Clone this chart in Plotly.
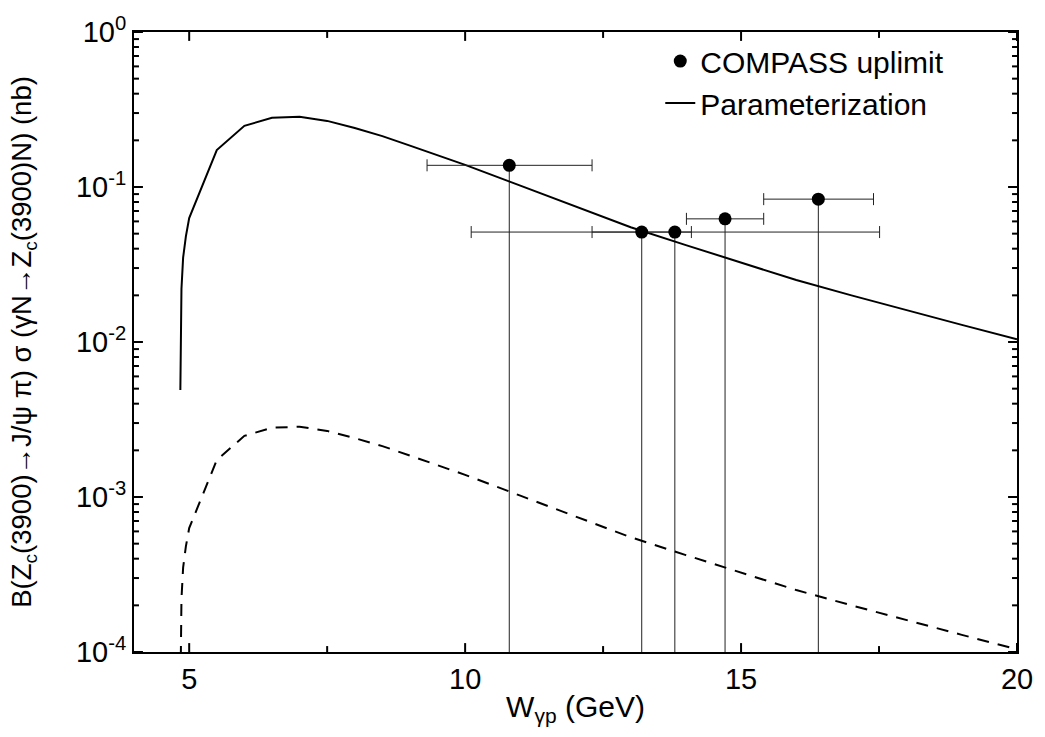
import plotly.graph_objects as go

# ---- data ----
W_param = [4.84, 4.85, 4.86, 4.89, 4.94, 5.0, 5.5, 6.0, 6.5, 7.0, 7.5, 8.0, 8.5, 9.0,
           9.5, 10.0, 11.0, 12.0, 13.0, 14.0, 15.0, 16.0, 17.0, 18.0, 19.0, 20.0]
sigma_param = [0.0049, 0.012, 0.022, 0.035, 0.048, 0.063, 0.173, 0.248, 0.280, 0.284,
               0.267, 0.240, 0.213, 0.185, 0.161, 0.139, 0.102, 0.075, 0.055, 0.0422,
               0.0324, 0.0251, 0.0200, 0.0160, 0.0129, 0.0104]

W_dashed = [4.84, 4.85, 4.86, 4.89, 4.94, 5.0, 5.5, 6.0, 6.5, 7.0, 7.5, 8.0, 8.5, 9.0,
            9.5, 10.0, 11.0, 12.0, 13.0, 14.0, 15.0, 16.0, 17.0, 18.0, 19.0, 20.0]
sigma_dashed = [0.000049, 0.00012, 0.00022, 0.00035, 0.00048, 0.00063, 0.00173, 0.00248,
                0.00280, 0.00284, 0.00267, 0.00240, 0.00213, 0.00185, 0.00161, 0.00139,
                0.00102, 0.00075, 0.00055, 0.000422, 0.000324, 0.000251, 0.000200,
                0.000160, 0.000129, 0.000104]

compass_W = [10.80, 13.20, 13.80, 14.71, 16.40]
compass_sigma = [0.138, 0.0512, 0.0512, 0.0623, 0.0835]
compass_W_lo = [9.31, 10.11, 12.30, 14.01, 15.41]
compass_W_hi = [12.30, 14.10, 17.51, 15.41, 17.40]

x_range = [4, 20]
y_range_log = [-4, 0]
y_tickvals = [1e-4, 1e-3, 1e-2, 1e-1, 1]
y_ticktext = ["10<sup>-4</sup>", "10<sup>-3</sup>", "10<sup>-2</sup>", "10<sup>-1</sup>", "10<sup>0</sup>"]
y_minor = [m * 10 ** e for e in range(-4, 0) for m in range(2, 10)]
x_tickvals = [5, 10, 15, 20]
x_minor = [7.5, 12.5, 17.5]

FONT = "Arial, Liberation Sans, sans-serif"
W_PX, H_PX = 1045, 737
MARGIN = dict(l=134, r=22, t=25, b=85)
plot_w = W_PX - MARGIN["l"] - MARGIN["r"]
plot_h = H_PX - MARGIN["t"] - MARGIN["b"]
px_per_unit = plot_w / (x_range[1] - x_range[0])
px_per_decade = plot_h / (y_range_log[1] - y_range_log[0])
y_lo, y_hi = 10 ** y_range_log[0], 10 ** y_range_log[1]

fig = go.Figure()

# vertical drop lines from the upper limits
drop_x, drop_y = [], []
for w, s in zip(compass_W, compass_sigma):
    drop_x += [w, w, None]
    drop_y += [s, y_lo, None]
fig.add_trace(go.Scatter(x=drop_x, y=drop_y, mode="lines",
                         line=dict(color="#222222", width=1), showlegend=False,
                         hoverinfo="skip"))

fig.add_trace(go.Scatter(x=W_param, y=sigma_param, mode="lines", name="Parameterization",
                         line=dict(color="black", width=2)))
fig.add_trace(go.Scatter(x=W_dashed, y=sigma_dashed, mode="lines", showlegend=False,
                         line=dict(color="black", width=2, dash="12px,9px")))

fig.add_trace(go.Scatter(
    x=compass_W, y=compass_sigma, mode="markers", name="COMPASS uplimit",
    marker=dict(color="black", size=13),
    error_x=dict(type="data", symmetric=False,
                 array=[h - w for h, w in zip(compass_W_hi, compass_W)],
                 arrayminus=[w - l for w, l in zip(compass_W, compass_W_lo)],
                 color="#222222", thickness=1, width=6)))

# inward tick marks on all four sides, placed at the tick values
tx, ty = [], []
for vals, ln in ((x_tickvals, 9), (x_minor, 6)):
    f = 10 ** (ln / px_per_decade)
    for v in vals:
        tx += [v, v, None, v, v, None]
        ty += [y_lo, y_lo * f, None, y_hi, y_hi / f, None]
for vals, ln in ((y_tickvals, 9), (y_minor, 5)):
    d = ln / px_per_unit
    for v in vals:
        tx += [x_range[0], x_range[0] + d, None, x_range[1], x_range[1] - d, None]
        ty += [v, v, None, v, v, None]
fig.add_trace(go.Scatter(x=tx, y=ty, mode="lines", line=dict(color="black", width=2),
                         showlegend=False, hoverinfo="skip"))

fig.update_layout(
    width=W_PX, height=H_PX,
    margin=MARGIN,
    paper_bgcolor="white", plot_bgcolor="white",
    font=dict(family=FONT, color="black", size=26),
    legend=dict(x=0.596, y=0.995, xanchor="left", yanchor="top",
                traceorder="reversed",
                font=dict(size=30, family=FONT),
                bgcolor="rgba(0,0,0,0)", tracegroupgap=0),
    xaxis=dict(range=x_range, tickmode="array", tickvals=x_tickvals, ticks="",
               showline=True, linewidth=2, linecolor="black", mirror=True,
               showgrid=False, zeroline=False, tickfont=dict(size=29),
               title=dict(text="W<sub>γp</sub> (GeV)", font=dict(size=30), standoff=2)),
    yaxis=dict(type="log", range=y_range_log, tickmode="array", tickvals=y_tickvals,
               ticktext=y_ticktext, ticks="",
               showline=True, linewidth=2, linecolor="black", mirror=True,
               showgrid=False, zeroline=False, tickfont=dict(size=29),
               title=dict(text="B(Z<sub>c</sub>(3900)→J/ψ π) σ (γN→Z<sub>c</sub>(3900)N) (nb)",
                          font=dict(size=27.5), standoff=36)),
)

fig.write_html("out.html")
